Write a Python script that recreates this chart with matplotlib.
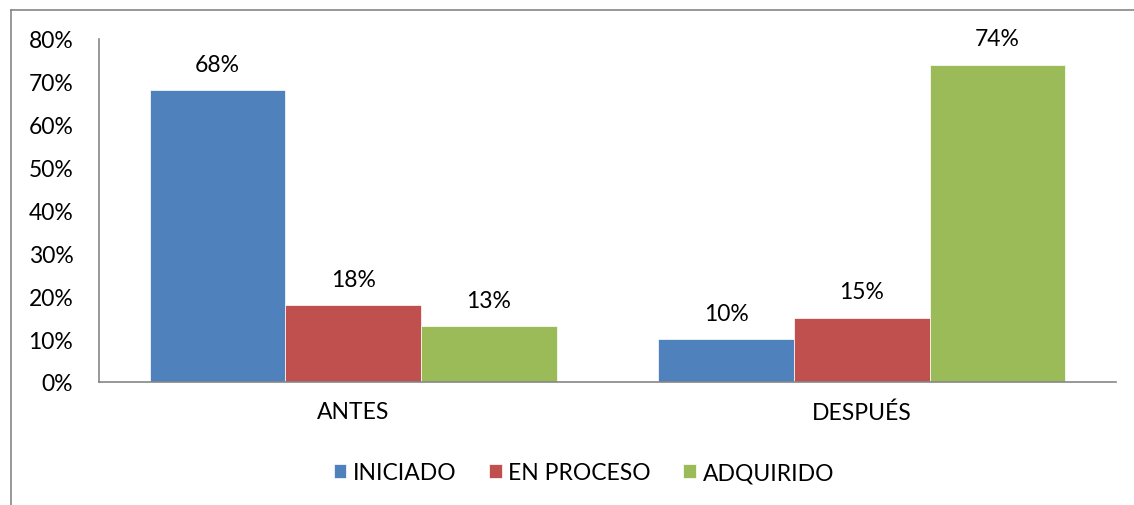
import matplotlib.pyplot as plt
import numpy as np
from matplotlib.lines import Line2D

# data
categories = ["ANTES", "DESPUÉS"]
series_names = ["INICIADO", "EN PROCESO", "ADQUIRIDO"]
iniciado = [68, 10]
en_proceso = [18, 15]
adquirido = [13, 74]
colors = ["#4F81BD", "#C0504D", "#9BBB59"]
y_ticks = [0, 10, 20, 30, 40, 50, 60, 70, 80]

plt.rcParams['font.family'] = ['Lato', 'DejaVu Sans']
FS = 16.5

fig = plt.figure(figsize=(11.34, 5.06), dpi=100)
ax = fig.add_axes([99 / 1134, 1 - 383 / 506, (1116 - 99) / 1134, (383 - 40) / 506])

x = np.arange(len(categories))
width = 0.8 / 3
for i, (vals, name, c) in enumerate(zip([iniciado, en_proceso, adquirido], series_names, colors)):
    pos = x + (i - 1) * width
    bars = ax.bar(pos, vals, width, color=c, label=name, edgecolor="white", linewidth=0.5)
    for b, v in zip(bars, vals):
        ax.text(b.get_x() + b.get_width() / 2, v + 6, f"{v}%", ha="center", va="center",
                fontsize=FS, color="#000000")

ax.set_xlim(-0.5, len(categories) - 0.5)
ax.set_ylim(0, 80)
ax.set_yticks(y_ticks)
ax.set_yticklabels([f"{t}%" for t in y_ticks])
ax.set_xticks(x)
ax.set_xticklabels(categories)
ax.tick_params(axis="both", length=0, labelsize=FS, colors="#000000")
ax.tick_params(axis="y", pad=18.5)
ax.tick_params(axis="x", pad=14)
for s in ["top", "right"]:
    ax.spines[s].set_visible(False)
for s in ["left", "bottom"]:
    ax.spines[s].set_color("#868686")
    ax.spines[s].set_linewidth(1.2)

ax.legend(loc="center", bbox_to_anchor=(584 / 1134, 1 - 474 / 506), bbox_transform=fig.transFigure,
          ncol=3, frameon=False, fontsize=FS, handlelength=0.55, handleheight=0.55,
          columnspacing=1.4, handletextpad=0.3)

# outer chart frame (only left and top edges visible)
fig.add_artist(Line2D([10.5 / 1134, 10.5 / 1134], [0, 1 - 10.5 / 506], transform=fig.transFigure,
                      color="#868686", linewidth=1.2))
fig.add_artist(Line2D([10.5 / 1134, 1], [1 - 10.5 / 506, 1 - 10.5 / 506], transform=fig.transFigure,
                      color="#868686", linewidth=1.2))

plt.savefig("out.png", dpi=100)
